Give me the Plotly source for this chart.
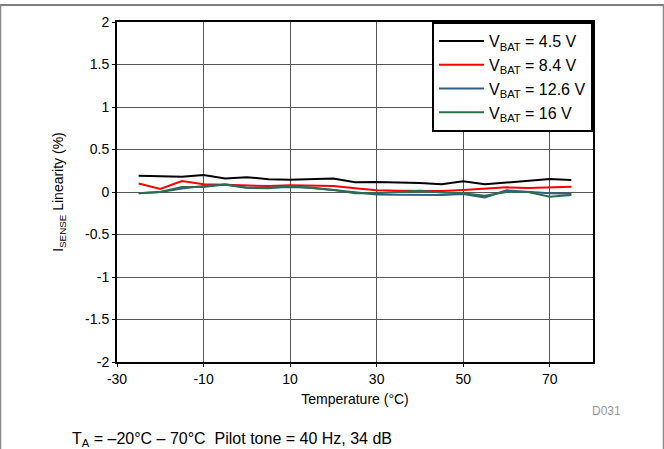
import plotly.graph_objects as go

temp = [-25, -20, -15, -10, -5, 0, 5, 10, 15, 20, 25, 30, 35, 40, 45, 50, 55, 60, 65, 70, 75]

v45 = [0.19, 0.185, 0.18, 0.2, 0.16, 0.175, 0.15, 0.145, 0.15, 0.16, 0.115, 0.118, 0.112, 0.106, 0.09, 0.125, 0.09, 0.11, 0.135, 0.153, 0.14]
v84 = [0.1, 0.035, 0.13, 0.09, 0.085, 0.075, 0.07, 0.08, 0.075, 0.07, 0.043, 0.02, 0.016, 0.012, 0.012, 0.024, 0.043, 0.055, 0.047, 0.055, 0.063]
v126 = [-0.015, 0.0, 0.04, 0.07, 0.086, 0.05, 0.05, 0.06, 0.05, 0.024, 0.0, -0.03, -0.033, -0.035, -0.035, -0.024, -0.063, 0.02, 0.0, -0.015, -0.02]
v16 = [-0.015, 0.0, 0.06, 0.06, 0.09, 0.05, 0.045, 0.07, 0.047, 0.025, -0.015, -0.015, 0.0, 0.016, -0.005, -0.015, -0.043, 0.0, 0.0, -0.055, -0.035]

x_ticks = [-30, -10, 10, 30, 50, 70]
x_labels = ['-30', '-10', '10', '30', '50', '70']
y_ticks = [-2, -1.5, -1, -0.5, 0, 0.5, 1, 1.5, 2]
y_labels = ['-2', '-1.5', '-1', '-0.5', '0', '0.5', '1', '1.5', '2']

series = [
    ("V<sub>BAT</sub> = 4.5 V", v45, "#000000"),
    ("V<sub>BAT</sub> = 8.4 V", v84, "#ff0000"),
    ("V<sub>BAT</sub> = 12.6 V", v126, "#2f5f82"),
    ("V<sub>BAT</sub> = 16 V", v16, "#2b6e4c"),
]

fig = go.Figure()
for name, vals, col in series:
    fig.add_trace(go.Scatter(x=temp, y=vals, mode='lines', name=name,
                             line=dict(color=col, width=2)))

axis_common = dict(showline=True, linecolor='black', linewidth=2, mirror=True,
                   showgrid=True, gridcolor='#555555', gridwidth=1, zeroline=False,
                   ticks='outside', ticklen=3, tickcolor='black', automargin=False,
                   tickfont=dict(size=14, color='black'))

fig.update_xaxes(range=[-30, 80], tickvals=x_ticks, ticktext=x_labels,
                 title=dict(text='Temperature (°C)', font=dict(size=14, color='black'), standoff=8),
                 **axis_common)
fig.update_yaxes(range=[-2, 2], tickvals=y_ticks, ticktext=y_labels,
                 title=dict(text='I<sub>SENSE</sub> Linearity (%)', font=dict(size=14, color='black'), standoff=18),
                 **axis_common)

fig.update_layout(
    width=664, height=449,
    margin=dict(l=117, r=71, t=22, b=87),
    paper_bgcolor='white', plot_bgcolor='white',
    font=dict(family='Liberation Sans, Arial, sans-serif', color='black'),
    legend=dict(x=1, y=1, xanchor='right', yanchor='top', bgcolor='white',
                bordercolor='black', borderwidth=2, font=dict(size=16),
                tracegroupgap=0, itemwidth=45),
    showlegend=True,
)

# page frame lines
fig.add_shape(type='line', xref='paper', yref='paper', x0=-117/476, x1=547/476, y0=1 + 17/340, y1=1 + 17/340,
              line=dict(color='#555555', width=1.5))
fig.add_shape(type='line', xref='paper', yref='paper', x0=-116.5/476, x1=-116.5/476, y0=-87/340, y1=1 + 17/340,
              line=dict(color='#888888', width=1.5))
fig.add_shape(type='line', xref='paper', yref='paper', x0=546.5/476, x1=546.5/476, y0=-87/340, y1=1 + 17/340,
              line=dict(color='#888888', width=1.5))

fig.add_annotation(text='D031', xref='paper', yref='paper', x=473/476, y=-49/340, xanchor='left', yanchor='middle',
                   showarrow=False, font=dict(size=12, color='#999999'))
fig.add_annotation(text='T<sub>A</sub> = –20°C – 70°C  Pilot tone = 40 Hz, 34 dB', xref='paper', yref='paper',
                   x=-47/476, y=-66/340, xanchor='left', yanchor='top', showarrow=False,
                   font=dict(size=16, color='black'))

# drop the default page margin so the figure sits at the window corner
fig.write_html("out.html", config={'displayModeBar': False},
               post_script="document.body.style.margin='0';")
